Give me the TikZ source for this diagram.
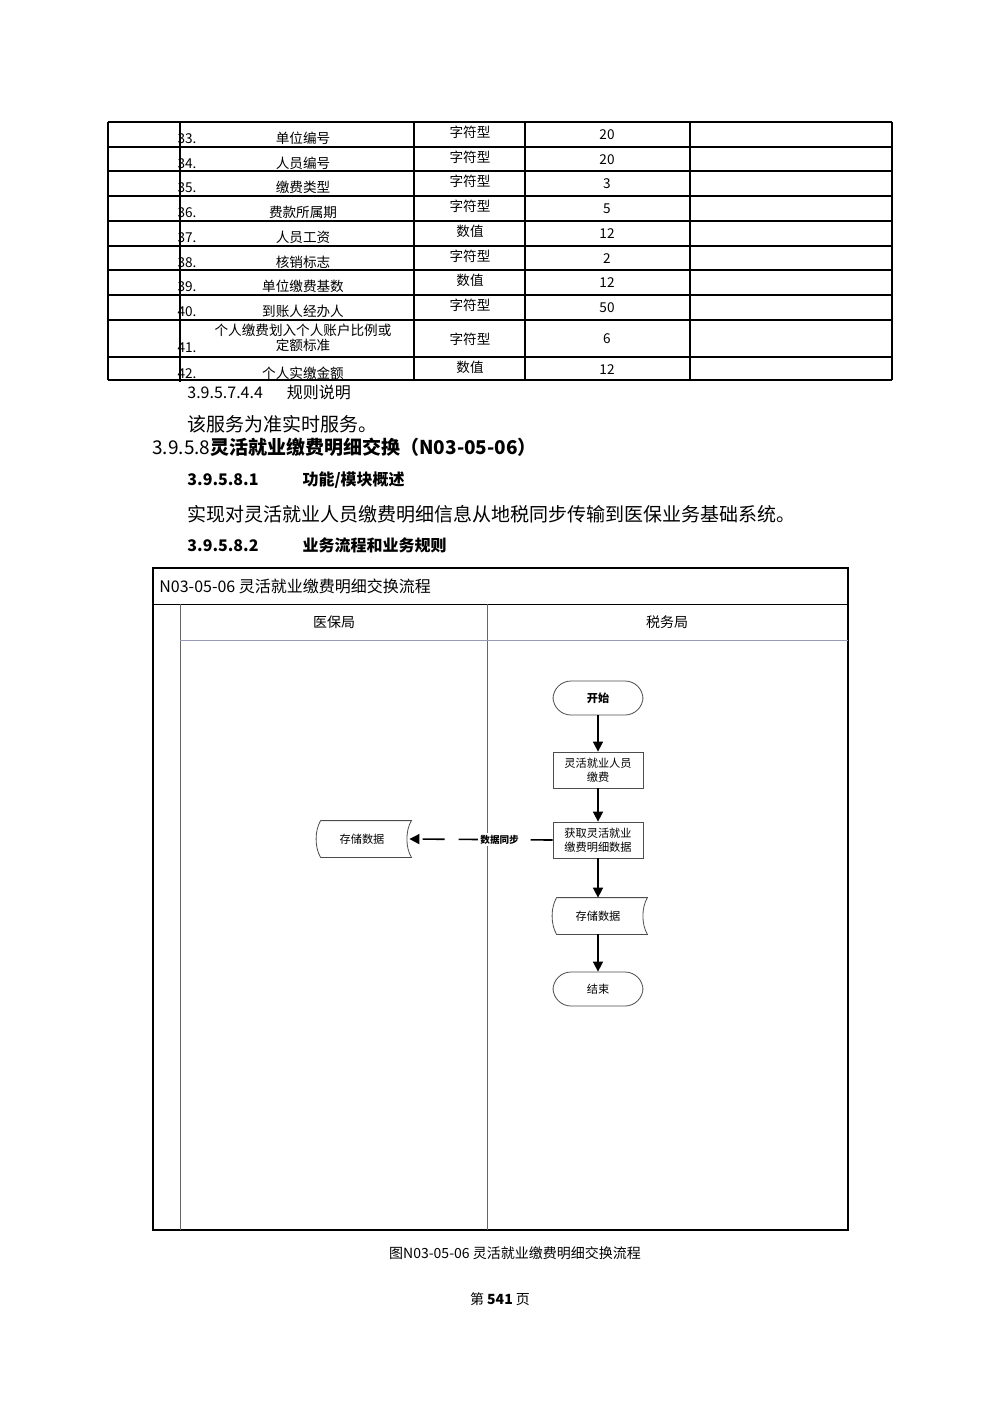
\documentclass[tikz,border=0pt]{standalone}
\usepackage{fontspec}
\setmainfont{Liberation Serif}
\newfontfamily\cjk{Noto Sans CJK SC}
\usetikzlibrary{arrows.meta}
\begin{document}
\begin{tikzpicture}[x=0.5pt,y=-0.5pt,
  tb/.style={font=\cjk\fontsize{6.8}{7.5}\selectfont,inner sep=0},
  body/.style={font=\cjk\fontsize{9.5}{11}\selectfont,anchor=west,inner sep=0},
  hd/.style={font=\cjk\bfseries\fontsize{8}{10}\selectfont,anchor=west,inner sep=0},
  fl/.style={font=\cjk\fontsize{5.6}{7}\selectfont,align=center,inner sep=0},
  boxn/.style={draw=black!70,minimum width=45pt,minimum height=18pt,fl},
  term/.style={draw=black!70,rounded corners=9pt,minimum width=45pt,minimum height=17pt,fl},
  arr/.style={-{Triangle[length=5pt,width=5pt]},line width=0.8pt}]
\useasboundingbox (0,0) rectangle (1000,1415);
% table
\foreach \y in {122,147,171,196,221,246,270,295,320,357,380} \draw[line width=0.6pt] (108,\y)--(892,\y);
\foreach \x in {108,414,525,690,892} \draw[line width=0.6pt] (\x,122)--(\x,380);
\foreach \a/\b/\c/\d/\y in {33/单位编号/字符型/20/122,34/人员编号/字符型/20/147,35/缴费类型/字符型/3/171,36/费款所属期/字符型/5/196,37/人员工资/数值/12/221,38/核销标志/字符型/2/246,39/单位缴费基数/数值/12/270,40/到账人经办人/字符型/50/295,42/个人实缴金额/数值/12/357}{
  \node[tb] at (187,\y+17) {\a.};
  \node[tb] at (303,\y+16) {\b};
  \node[tb] at (470,\y+10) {\c};
  \node[tb] at (607,\y+13) {\d};
}
\node[tb] at (187,348) {41.};
\node[tb,align=center] at (303,338) {个人缴费划入个人账户比例或\\定额标准};
\node[tb] at (470,339) {字符型};
\node[tb] at (607,339) {6};
\draw[line width=0.6pt] (180,122)--(180,382);
% text
\node[body,font=\cjk\fontsize{8}{10}\selectfont] at (187,392) {3.9.5.7.4.4\hspace{12pt}规则说明};
\node[body] at (187,424) {该服务为准实时服务。};
\node[body] at (152,447) {3.9.5.8\textbf{灵活就业缴费明细交换（N03-05-06）}};
\node[hd] at (187,480) {3.9.5.8.1\hspace{22pt}功能/模块概述};
\node[body] at (187,514) {实现对灵活就业人员缴费明细信息从地税同步传输到医保业务基础系统。};
\node[hd] at (187,545) {3.9.5.8.2\hspace{22pt}业务流程和业务规则};
% swimlane
\draw[line width=0.8pt] (153,568) rectangle (848,1230);
\draw (153,604)--(848,604);
\draw[black!60] (180,604)--(180,1230);
\draw[black!60] (487,604)--(487,1230);
\draw[blue!30!black!40] (180,640)--(848,640);
\node[anchor=west,font=\cjk\fontsize{8}{10}\selectfont,inner sep=0] at (159,586) {N03-05-06 灵活就业缴费明细交换流程};
\node[font=\cjk\fontsize{7}{9}\selectfont] at (334,622) {医保局};
\node[font=\cjk\fontsize{7}{9}\selectfont] at (667,622) {税务局};
% nodes
\node[term] (s) at (598,698) {\bfseries 开始};
\node[boxn] (a) at (598,770) {灵活就业人员\\缴费};
\node[boxn] (b) at (598,840) {获取灵活就业\\缴费明细数据};
\node[minimum width=45pt,minimum height=18pt,fl] (c) at (598,916) {存储数据};
\node[term] (e) at (598,989) {结束};
\node[minimum width=45pt,minimum height=18pt,fl] (d) at (362,839) {存储数据};
\foreach \n in {c,d}{
  \draw[black!70] ([xshift=2pt]\n.north west) -- ([xshift=2pt]\n.north east)
    .. controls ([xshift=-1pt,yshift=-5pt]\n.north east) and ([xshift=-1pt,yshift=5pt]\n.south east) .. ([xshift=2pt]\n.south east)
    -- ([xshift=2pt]\n.south west)
    .. controls ([xshift=-1pt,yshift=5pt]\n.south west) and ([xshift=-1pt,yshift=-5pt]\n.north west) .. ([xshift=2pt]\n.north west);
}
\draw[arr] (s)--(a);
\draw[arr] (a)--(b);
\draw[arr] (b)--(c);
\draw[arr] (c)--(e);
\draw[arr,dash pattern=on 11pt off 7pt] (b.west) -- ([xshift=1pt]d.east)
  node[pos=0.37,fill=white,inner sep=1pt,font=\cjk\bfseries\fontsize{4.8}{6}\selectfont] {数据同步};
% caption
\node[font=\cjk\fontsize{7}{9}\selectfont] at (515,1253) {图N03-05-06 灵活就业缴费明细交换流程};
\node[font=\cjk\fontsize{7}{9}\selectfont] at (500,1299) {第 \textbf{541} 页};
\end{tikzpicture}
\end{document}
